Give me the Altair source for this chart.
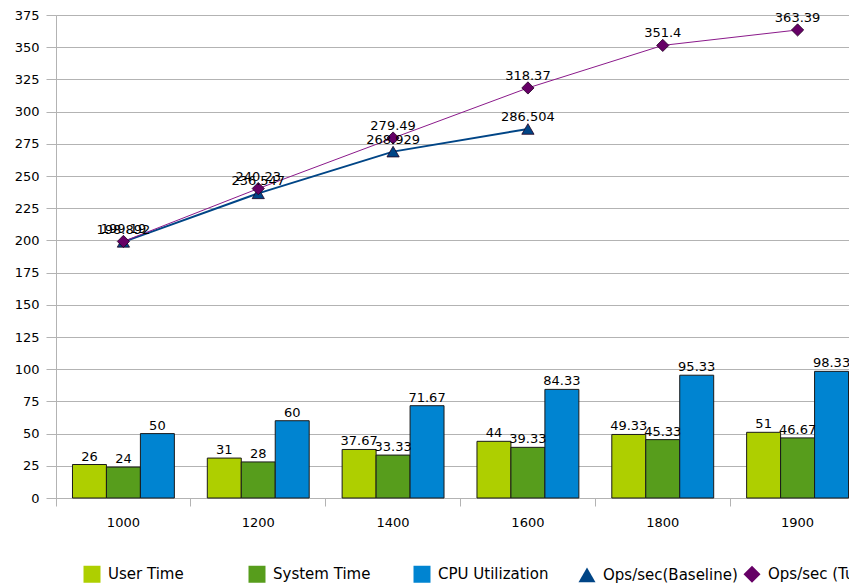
import altair as alt
import pandas as pd

categories = ["1000", "1200", "1400", "1600", "1800", "1900"]
user_time = [26, 31, 37.67, 44, 49.33, 51]
system_time = [24, 28, 33.33, 39.33, 45.33, 46.67]
cpu_util = [50, 60, 71.67, 84.33, 95.33, 98.33]
baseline_cats = ["1000", "1200", "1400", "1600"]
baseline_ops = [198.892, 236.547, 268.929, 286.504]
tuned_ops = [199.19, 240.23, 279.49, 318.37, 351.4, 363.39]

series_names = ["User Time", "System Time", "CPU Utilization", "Ops/sec(Baseline)", "Ops/sec (Tuned)"]
series_colors = ["#aecf00", "#579d1c", "#0084d1", "#004586", "#660066"]
series_shapes = ["square", "square", "square", "triangle-up", "diamond"]
y_ticks = [0, 25, 50, 75, 100, 125, 150, 175, 200, 225, 250, 275, 300, 325, 350, 375]

FONT = "DejaVu Sans"

bar_rows = []
for name, vals in zip(series_names[:3], [user_time, system_time, cpu_util]):
    for c, v in zip(categories, vals):
        bar_rows.append({"cat": c, "series": name, "value": v, "label": f"{v:g}"})
bars_df = pd.DataFrame(bar_rows)

line_rows = []
for c, v in zip(baseline_cats, baseline_ops):
    line_rows.append({"cat": c, "series": series_names[3], "value": v, "label": f"{v:g}"})
for c, v in zip(categories, tuned_ops):
    line_rows.append({"cat": c, "series": series_names[4], "value": v, "label": f"{v:g}"})
lines_df = pd.DataFrame(line_rows)

x_enc = alt.X("cat:N", sort=categories,
              scale=alt.Scale(paddingInner=0, paddingOuter=0, range=[0, 809]),
              axis=alt.Axis(title=None, labelAngle=0, bandPosition=0, grid=False,
                            domainColor="#b3b3b3", tickColor="#b3b3b3", tickSize=8,
                            labelPadding=10, labelFontSize=13, labelFont=FONT,
                            labelColor="#000000"))
y_enc = alt.Y("value:Q", scale=alt.Scale(domain=[0, 375], nice=False),
              axis=alt.Axis(title=None, values=y_ticks, grid=True, labelOverlap=False,
                            gridColor="#b3b3b3", domainColor="#b3b3b3", tickColor="#b3b3b3",
                            tickSize=10, labelPadding=7, labelFontSize=13, labelFont=FONT,
                            labelColor="#000000"))

color_scale = alt.Scale(domain=series_names, range=series_colors)
shape_scale = alt.Scale(domain=series_names, range=series_shapes)
legend = alt.Legend(title=None, orient="none", direction="horizontal", columns=5,
                    gridAlign="all", columnPadding=3, legendX=27, legendY=550,
                    labelFont=FONT, labelFontSize=15, labelColor="#000000",
                    symbolSize=289, symbolStrokeColor="#1a1a1a", symbolStrokeWidth=1,
                    symbolOpacity=1, labelOffset=7, labelLimit=200)

bars = alt.Chart(bars_df).mark_bar(stroke="#1a1a1a", strokeWidth=1).encode(
    x=x_enc,
    xOffset=alt.XOffset("series:N", sort=series_names[:3],
                        scale=alt.Scale(paddingInner=0, paddingOuter=0.485)),
    y=y_enc,
    color=alt.Color("series:N", scale=color_scale, legend=legend),
)
bar_text = alt.Chart(bars_df).mark_text(baseline="bottom", dy=-1, fontSize=13, font=FONT,
                                        color="#000000").encode(
    x=x_enc,
    xOffset=alt.XOffset("series:N", sort=series_names[:3]),
    y=y_enc,
    text="label:N",
)

line_base = alt.Chart(lines_df).transform_filter(
    alt.datum.series == series_names[3]).mark_line(color="#004586", strokeWidth=2).encode(
    x=x_enc, y=y_enc)
line_tuned = alt.Chart(lines_df).transform_filter(
    alt.datum.series == series_names[4]).mark_line(color="#8b1a8b", strokeWidth=1).encode(
    x=x_enc, y=y_enc)

points = alt.Chart(lines_df).mark_point(filled=True, opacity=1, size=150,
                                        stroke="#220022", strokeWidth=0.8).encode(
    x=x_enc,
    y=y_enc,
    color=alt.Color("series:N", scale=color_scale, legend=legend),
    shape=alt.Shape("series:N", scale=shape_scale, legend=legend),
)
point_text = alt.Chart(lines_df).mark_text(baseline="middle", dy=-12, fontSize=13, font=FONT,
                                           color="#000000").encode(
    x=x_enc,
    y=y_enc,
    text="label:N",
)

chart = alt.layer(bars, bar_text, line_base, line_tuned, points, point_text).properties(
    width=793, height=483,
    autosize=alt.AutoSizeParams(type="none"),
    padding={"left": 48, "top": 7, "right": 0, "bottom": 95},
).configure_view(stroke=None).configure(background="#ffffff")

chart.save("out.html", embed_options={"renderer": "svg", "actions": False})
